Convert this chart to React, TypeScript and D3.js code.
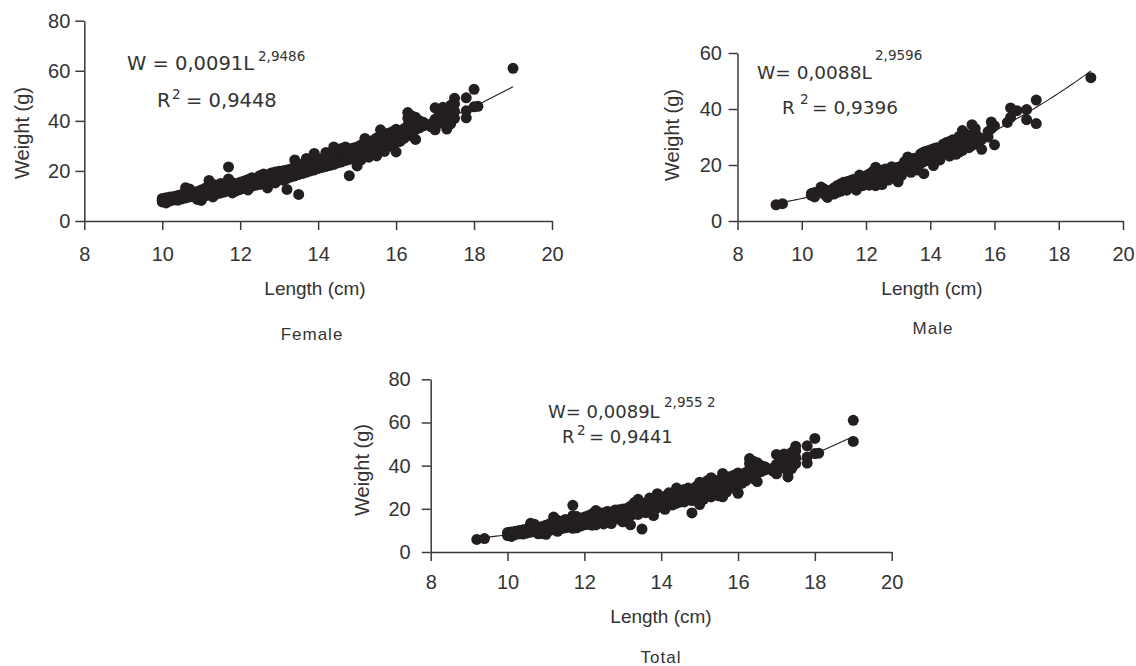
import React, { useEffect, useRef } from "react";
import * as d3 from "d3";

// axis ticks
const xTicks = [8, 10, 12, 14, 16, 18, 20];
const yTicks80 = [0, 20, 40, 60, 80];
const yTicks60 = [0, 20, 40, 60];

// [length (cm), weight (g)]
const femalePoints: [number, number][] = [
  [10.0, 8.2], [10.0, 9.0], [10.0, 7.6], [10.1, 7.2], [10.1, 8.6], [10.1, 9.3],
  [10.2, 8.0], [10.2, 9.6], [10.3, 8.4], [10.3, 9.8], [10.4, 9.1], [10.4, 10.2], [10.4, 8.3],
  [10.5, 9.4], [10.5, 10.6], [10.5, 8.8], [10.6, 13.3], [10.6, 10.1], [10.6, 9.2],
  [10.7, 12.8], [10.7, 10.8], [10.7, 9.6], [10.8, 9.9], [10.8, 11.2],
  [10.9, 10.4], [10.9, 11.8], [10.9, 8.6], [11.0, 8.2], [11.0, 10.9], [11.0, 12.4], [11.0, 9.5],
  [11.1, 11.5], [11.1, 13.1], [11.1, 10.0], [11.2, 16.2], [11.2, 12.0], [11.2, 10.4], [11.2, 13.6],
  [11.3, 11.3], [11.3, 12.8], [11.3, 14.7], [11.3, 9.6], [11.4, 12.2], [11.4, 13.5], [11.4, 10.8],
  [11.5, 12.6], [11.5, 14.1], [11.5, 11.2], [11.5, 15.0], [11.6, 13.0], [11.6, 11.6], [11.6, 14.8],
  [11.7, 21.6], [11.7, 13.4], [11.7, 12.1], [11.7, 15.6], [11.7, 16.8],
  [11.8, 12.6], [11.8, 14.2], [11.8, 11.2], [11.8, 15.3], [11.9, 13.5], [11.9, 14.9], [11.9, 12.0],
  [12.0, 14.0], [12.0, 15.5], [12.0, 12.6], [12.0, 13.2], [12.1, 14.5], [12.1, 16.0], [12.1, 13.0],
  [12.2, 15.1], [12.2, 16.6], [12.2, 12.4], [12.2, 13.8], [12.3, 15.0], [12.3, 17.3], [12.3, 13.9],
  [12.4, 15.8], [12.4, 14.3], [12.4, 17.0], [12.5, 16.2], [12.5, 14.6], [12.5, 18.1],
  [12.6, 16.6], [12.6, 18.8], [12.6, 15.0], [12.7, 17.0], [12.7, 15.4], [12.7, 18.4], [12.7, 13.2],
  [12.8, 17.4], [12.8, 16.0], [12.8, 19.2], [12.9, 17.8], [12.9, 16.2], [12.9, 19.6], [12.9, 15.2],
  [13.0, 18.2], [13.0, 16.8], [13.0, 19.9], [13.1, 18.4], [13.1, 17.2], [13.1, 20.1], [13.1, 16.3],
  [13.2, 18.8], [13.2, 12.6], [13.2, 20.4], [13.2, 17.0], [13.3, 19.1], [13.3, 17.6], [13.3, 20.8],
  [13.4, 24.4], [13.4, 19.6], [13.4, 18.0], [13.4, 21.6], [13.5, 10.6], [13.5, 20.1], [13.5, 18.6], [13.5, 22.2],
  [13.6, 20.6], [13.6, 19.0], [13.6, 22.8], [13.7, 21.0], [13.7, 19.5], [13.7, 23.3], [13.7, 25.0],
  [13.8, 21.4], [13.8, 20.0], [13.8, 23.6], [13.9, 27.0], [13.9, 22.0], [13.9, 20.4], [13.9, 24.2],
  [14.0, 22.4], [14.0, 21.0], [14.0, 24.6], [14.0, 23.5], [14.1, 22.8], [14.1, 21.4], [14.1, 25.0],
  [14.2, 23.3], [14.2, 21.8], [14.2, 25.6], [14.2, 27.4], [14.3, 23.8], [14.3, 22.2], [14.3, 26.0],
  [14.4, 29.6], [14.4, 24.2], [14.4, 22.6], [14.4, 26.6], [14.5, 24.6], [14.5, 23.2], [14.5, 27.2], [14.5, 25.5],
  [14.6, 25.2], [14.6, 23.6], [14.6, 27.8], [14.6, 29.0], [14.7, 25.6], [14.7, 24.2], [14.7, 28.4], [14.7, 29.6],
  [14.8, 18.1], [14.8, 26.2], [14.8, 24.6], [14.8, 28.8], [14.9, 26.6], [14.9, 25.0], [14.9, 29.2], [14.9, 27.8],
  [15.0, 27.2], [15.0, 25.4], [15.0, 29.6], [15.0, 22.0], [15.1, 27.8], [15.1, 26.2], [15.1, 30.4], [15.1, 24.4],
  [15.2, 28.4], [15.2, 26.6], [15.2, 33.0], [15.2, 30.8], [15.3, 29.0], [15.3, 27.2], [15.3, 31.4], [15.3, 25.5],
  [15.4, 29.6], [15.4, 27.8], [15.4, 32.2], [15.4, 26.5], [15.5, 30.2], [15.5, 28.4], [15.5, 33.2], [15.5, 26.0],
  [15.6, 30.8], [15.6, 36.4], [15.6, 29.0], [15.6, 33.8], [15.7, 31.4], [15.7, 29.6], [15.7, 34.4], [15.7, 27.8],
  [15.8, 32.0], [15.8, 30.2], [15.8, 35.0], [15.9, 32.6], [15.9, 29.8], [15.9, 35.6], [15.9, 30.8],
  [16.0, 33.2], [16.0, 36.6], [16.0, 27.6], [16.0, 31.4], [16.1, 33.8], [16.1, 31.8], [16.1, 36.0],
  [16.2, 34.6], [16.2, 36.8], [16.2, 33.0], [16.3, 43.3], [16.3, 41.0], [16.3, 35.4], [16.3, 38.2],
  [16.4, 36.0], [16.4, 42.0], [16.4, 39.0], [16.4, 34.0], [16.5, 41.4], [16.5, 32.6], [16.5, 38.4], [16.5, 36.5],
  [16.6, 37.2], [16.6, 40.0], [16.7, 38.0], [16.7, 39.4], [16.9, 37.6], [16.9, 38.8],
  [17.0, 45.2], [17.0, 36.4], [17.0, 40.6], [17.0, 38.0], [17.1, 42.2], [17.1, 39.0],
  [17.2, 45.4], [17.2, 41.8], [17.2, 43.0], [17.3, 36.7], [17.3, 40.4], [17.3, 44.5],
  [17.4, 46.2], [17.4, 42.6], [17.4, 38.8], [17.5, 49.0], [17.5, 43.8], [17.5, 46.8], [17.5, 41.0],
  [17.8, 49.2], [17.8, 41.2], [17.8, 44.0], [18.0, 52.6], [18.0, 45.6], [18.1, 45.8], [19.0, 61.0],
];

const malePoints: [number, number][] = [
  [9.2, 5.8], [9.4, 6.2], [10.3, 9.2], [10.3, 9.8], [10.4, 8.6], [10.4, 10.2],
  [10.6, 12.1], [10.6, 10.4], [10.7, 11.4], [10.7, 9.6], [10.8, 8.4], [10.8, 10.6],
  [10.9, 10.2], [10.9, 11.0], [11.0, 10.8], [11.0, 11.8], [11.0, 9.6], [11.1, 11.2], [11.1, 12.6], [11.1, 10.2],
  [11.2, 12.0], [11.2, 13.2], [11.2, 10.6], [11.3, 11.6], [11.3, 12.8], [11.3, 13.8],
  [11.4, 12.4], [11.4, 14.0], [11.4, 11.0], [11.5, 13.0], [11.5, 12.0], [11.5, 14.4],
  [11.6, 13.4], [11.6, 14.8], [11.6, 12.2], [11.7, 12.8], [11.7, 14.2], [11.7, 11.0],
  [11.8, 13.6], [11.8, 15.0], [11.8, 16.4], [11.9, 14.2], [11.9, 12.6], [11.9, 15.6],
  [12.0, 14.6], [12.0, 13.2], [12.0, 16.2], [12.1, 15.0], [12.1, 12.8], [12.1, 16.8],
  [12.2, 15.4], [12.2, 13.6], [12.2, 17.6], [12.3, 19.2], [12.3, 16.0], [12.3, 14.2], [12.3, 12.6],
  [12.4, 16.4], [12.4, 14.8], [12.4, 18.2], [12.5, 17.0], [12.5, 15.2], [12.5, 13.0],
  [12.6, 17.4], [12.6, 15.8], [12.6, 18.6], [12.7, 17.8], [12.7, 16.2], [12.7, 14.6],
  [12.8, 18.4], [12.8, 16.8], [12.8, 19.4], [12.9, 18.8], [12.9, 17.2], [12.9, 15.6],
  [13.0, 19.2], [13.0, 17.6], [13.0, 14.0], [13.1, 19.6], [13.1, 18.0], [13.1, 16.2],
  [13.2, 20.0], [13.2, 18.4], [13.2, 21.2], [13.3, 22.9], [13.3, 20.4], [13.3, 18.8],
  [13.4, 20.8], [13.4, 19.2], [13.4, 17.4], [13.5, 21.2], [13.5, 19.6], [13.5, 22.4],
  [13.6, 21.8], [13.6, 20.2], [13.6, 18.2], [13.7, 22.4], [13.7, 24.0], [13.7, 20.6],
  [13.8, 16.9], [13.8, 22.8], [13.8, 21.2], [13.8, 24.6], [13.9, 23.2], [13.9, 21.6], [13.9, 25.0],
  [14.0, 23.8], [14.0, 25.4], [14.0, 22.0], [14.1, 19.8], [14.1, 24.2], [14.1, 22.6], [14.1, 25.8],
  [14.2, 24.8], [14.2, 23.0], [14.2, 26.2], [14.3, 25.2], [14.3, 21.8], [14.3, 23.6],
  [14.4, 25.8], [14.4, 24.2], [14.4, 27.4], [14.5, 26.2], [14.5, 24.6], [14.5, 28.0],
  [14.6, 26.8], [14.6, 25.2], [14.6, 28.4], [14.6, 23.2], [14.7, 27.4], [14.7, 25.8], [14.7, 29.0],
  [14.8, 28.0], [14.8, 26.2], [14.8, 23.8], [14.9, 28.6], [14.9, 30.2], [14.9, 26.8], [14.9, 24.6],
  [15.0, 32.3], [15.0, 29.2], [15.0, 27.4], [15.0, 25.2], [15.1, 29.6], [15.1, 27.8], [15.1, 31.2],
  [15.2, 30.2], [15.2, 28.4], [15.2, 26.2], [15.3, 34.4], [15.3, 30.8], [15.3, 29.0], [15.3, 27.0],
  [15.4, 31.4], [15.4, 29.6], [15.4, 33.0], [15.5, 30.0], [15.5, 27.6], [15.6, 25.6], [15.6, 29.2],
  [15.8, 31.9], [15.8, 30.0], [15.9, 35.4], [15.9, 33.0], [16.0, 27.2], [16.0, 34.0],
  [16.4, 35.2], [16.5, 40.4], [16.5, 37.0], [16.7, 39.4], [17.0, 39.8], [17.0, 36.2],
  [17.3, 43.2], [17.3, 34.8], [19.0, 51.2],
];

const totalPoints = femalePoints.concat(malePoints);

// fitted W = a * L^b, as printed on the figure
const femaleFit = { a: 0.0091, b: 2.9486 };
const maleFit = { a: 0.0088, b: 2.9596 };
const totalFit = { a: 0.0089, b: 2.9552 };

const tickFont = "'Liberation Sans', Arial, sans-serif";
const eqFont = "'DejaVu Sans', sans-serif";
const ink = "#231f20";
const axisColor = "#3a3a3a";
const textColor = "#333";

const panels = [
  {
    points: femalePoints, fit: femaleFit, yMax: 80, yTicks: yTicks80,
    left: 84.3, right: 552, top: 20.7, bottom: 221, yPad: 5, xPad: 17,
    xTitle: [315, 295], yTitle: [29, 133], caption: ["Female", 312, 340],
    eq: { x: 127, y: 70, size: 19.5, main: "W = 0,0091L", supX: 258, supY: 61, sup: "2,9486",
          rx: 157, ry: 107, r2x: 172, r2y: 99, eqX: 186, r2: "= 0,9448" },
  },
  {
    points: malePoints, fit: maleFit, yMax: 60, yTicks: yTicks60,
    left: 737.5, right: 1123, top: 53, bottom: 221, yPad: 6.5, xPad: 17,
    xTitle: [932, 295], yTitle: [679, 135], caption: ["Male", 933, 334],
    eq: { x: 757, y: 79, size: 18.5, main: "W= 0,0088L", supX: 875, supY: 60, sup: "2,9596",
          rx: 782, ry: 114, r2x: 800, r2y: 104, eqX: 812, r2: "= 0,9396" },
  },
  {
    points: totalPoints, fit: totalFit, yMax: 80, yTicks: yTicks80,
    left: 430.7, right: 891.7, top: 379.3, bottom: 552, yPad: 11, xPad: 14,
    xTitle: [661, 623], yTitle: [369, 470], caption: ["Total", 661, 663],
    eq: { x: 548, y: 418, size: 18, main: "W= 0,0089L", supX: 664, supY: 407, sup: "2,955 2",
          rx: 562, ry: 443, r2x: 577, r2y: 435, eqX: 589, r2: "= 0,9441" },
  },
];

function drawPanel(svg, p) {
  const x = d3.scaleLinear().domain([8, 20]).range([p.left, p.right]);
  const y = d3.scaleLinear().domain([0, p.yMax]).range([p.bottom, p.top]);
  const g = svg.append("g");

  const styleAxis = (ax) => {
    ax.attr("font-family", tickFont).attr("font-size", 20);
    ax.select(".domain").attr("stroke", axisColor).attr("stroke-width", 1.5);
    ax.selectAll(".tick line").attr("stroke", axisColor).attr("stroke-width", 1.5);
    ax.selectAll(".tick text").attr("fill", textColor);
  };

  g.append("g")
    .attr("transform", `translate(0,${p.bottom})`)
    .call(d3.axisBottom(x).tickValues(xTicks).tickSize(9).tickSizeOuter(0).tickPadding(p.xPad))
    .call(styleAxis);

  g.append("g")
    .attr("transform", `translate(${p.left},0)`)
    .call(d3.axisLeft(y).tickValues(p.yTicks).tickSize(9).tickSizeOuter(0).tickPadding(p.yPad))
    .call(styleAxis);

  // fitted curve
  const lens = p.points.map(d => d[0]);
  const lo = d3.min(lens), hi = d3.max(lens);
  const curve = d3.range(lo, hi + 0.001, 0.1).map(L => [L, p.fit.a * Math.pow(L, p.fit.b)]);
  g.append("path")
    .datum(curve)
    .attr("fill", "none")
    .attr("stroke", ink)
    .attr("stroke-width", 1.1)
    .attr("d", d3.line().x(d => x(d[0])).y(d => y(d[1])));

  g.append("g")
    .selectAll("circle")
    .data(p.points)
    .join("circle")
    .attr("cx", d => x(d[0]))
    .attr("cy", d => y(d[1]))
    .attr("r", 5.5)
    .attr("fill", ink);

  // titles
  g.append("text")
    .attr("x", p.xTitle[0]).attr("y", p.xTitle[1])
    .attr("text-anchor", "middle")
    .attr("font-family", tickFont).attr("font-size", 19).attr("fill", textColor)
    .text("Length (cm)");

  g.append("text")
    .attr("transform", `translate(${p.yTitle[0]},${p.yTitle[1]}) rotate(-90)`)
    .attr("text-anchor", "middle")
    .attr("font-family", tickFont).attr("font-size", 20).attr("fill", textColor)
    .text("Weight (g)");

  g.append("text")
    .attr("x", p.caption[1]).attr("y", p.caption[2])
    .attr("text-anchor", "middle")
    .attr("font-family", tickFont).attr("font-size", 17).attr("letter-spacing", 1)
    .attr("fill", textColor)
    .text(p.caption[0]);

  // equation
  const e = p.eq;
  const t = (tx, ty, size, s) => g.append("text")
    .attr("x", tx).attr("y", ty)
    .attr("font-family", eqFont).attr("font-size", size).attr("fill", textColor)
    .text(s);
  t(e.x, e.y, e.size, e.main);
  t(e.supX, e.supY, 13.5, e.sup);
  t(e.rx, e.ry, e.size, "R");
  t(e.r2x, e.r2y, 13.5, "2");
  t(e.eqX, e.ry, e.size, e.r2);
}

export default function App() {
  const ref = useRef(null);

  useEffect(() => {
    const svg = d3.select(ref.current);
    svg.selectAll("*").remove();
    panels.forEach(p => drawPanel(svg, p));
  }, []);

  return (
    <svg
      ref={ref}
      width={1136}
      height={666}
      style={{ position: "absolute", left: 0, top: 0, background: "#fff" }}
    />
  );
}
